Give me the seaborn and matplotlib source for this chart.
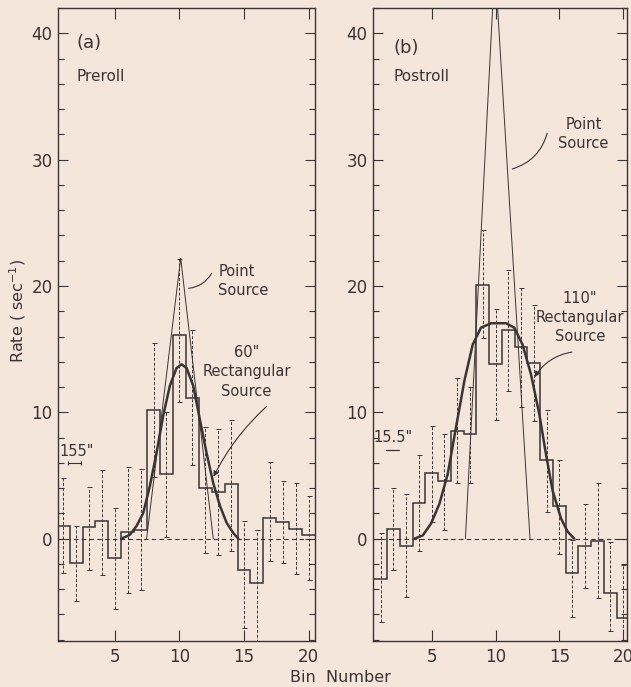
import numpy as np
import pandas as pd
import matplotlib
matplotlib.use("Agg")
import matplotlib.pyplot as plt
import seaborn as sns
from matplotlib.ticker import MultipleLocator, FixedLocator

# ---------------- data ----------------
bins = list(range(1, 21))

pre_rate = [1.0, -1.9, 0.9, 1.4, -1.5, 0.5, 0.7, 10.2, 5.1, 16.1,
            11.1, 4.0, 3.7, 4.3, -2.5, -3.5, 1.6, 1.3, 0.8, 0.3]
pre_top = [4.8, 1.0, 4.1, 5.4, 2.4, 5.7, 5.5, 15.5, 10.0, 22.1,
           16.5, 8.8, 8.7, 9.4, 1.4, 0.7, 6.1, 4.6, 4.4, 3.4]
pre_bottom = [-2.7, -4.9, -2.5, -2.9, -5.6, -4.3, -4.1, 4.9, 0.1, 10.8,
              5.8, -1.1, -1.3, -1.0, -7.1, -8.6, -1.8, -1.9, -2.8, -3.3]

post_rate = [-3.2, 0.8, -0.6, 2.8, 5.2, 4.6, 8.5, 8.3, 20.1, 13.8,
             16.5, 15.2, 13.9, 6.2, 2.6, -2.7, -0.6, -0.2, -4.3, -6.3]
post_top = [0.45, 4.0, 3.5, 6.6, 8.9, 8.3, 12.7, 12.0, 24.4, 18.2,
            21.3, 19.8, 18.5, 10.2, 6.2, -0.1, 2.75, 4.4, -0.3, -2.1]
post_bottom = [-6.6, -2.5, -4.6, -1.0, 1.3, 0.7, 4.4, 4.4, 15.9, 9.4,
               11.7, 10.4, 9.3, 2.1, -1.2, -6.2, -3.9, -4.7, -7.3, -10.5]

# point-source responses (triangles)
pre_point_x = [7.46, 10.1, 12.62]
pre_point_y = [0.0, 22.2, 0.0]
post_point_x = [7.64, 9.95, 12.70]
post_point_y = [0.0, 45.5, 0.0]

# 60" rectangular source model (preroll)
pre_rect_x = [5.5, 6.16, 6.68, 7.19, 7.71, 8.23, 8.74, 9.26, 9.78, 10.17,
              10.56, 11.07, 11.59, 12.1, 12.62, 13.14, 13.66, 14.17, 14.56]
pre_rect_y = [0.0, 0.3, 1.0, 2.0, 4.15, 6.8, 9.7, 12.1, 13.5, 13.8,
              13.5, 12.1, 9.4, 6.8, 4.4, 2.6, 1.25, 0.45, 0.0]

# 110" rectangular source model (postroll)
post_rect_x = [3.65, 4.30, 4.95, 5.6, 6.25, 6.9, 7.56, 8.21, 8.86, 9.65,
               10.82, 11.47, 12.12, 12.78, 13.43, 13.95, 14.47, 15.13, 15.64, 16.17]
post_rect_y = [0.0, 0.26, 1.2, 2.75, 5.1, 8.8, 12.5, 15.35, 16.7, 17.05,
               17.05, 16.7, 15.35, 13.0, 9.85, 6.7, 3.8, 1.6, 0.57, 0.0]

xticks = [5, 10, 15, 20]
yticks = [0, 10, 20, 30, 40]

# ---------------- style ----------------
BG = "#f5e6dc"
INK = "#3a3434"
sns.set_theme(style="ticks", rc={"axes.facecolor": BG, "figure.facecolor": BG})
plt.rcParams["font.family"] = ["DejaVu Sans"]
plt.rcParams["text.color"] = INK
plt.rcParams["axes.edgecolor"] = INK
plt.rcParams["xtick.color"] = INK
plt.rcParams["ytick.color"] = INK

W, H = 631, 687
fig = plt.figure(figsize=(W / 100, H / 100), dpi=100)
axA = fig.add_axes([58 / W, (H - 641) / H, (315 - 58) / W, (641 - 8) / H])
axB = fig.add_axes([373 / W, (H - 641) / H, (627 - 373) / W, (641 - 8) / H])


def draw_panel(ax, rate, top, bottom, px, py, rx, ry, xlim):
    b = np.array(bins, dtype=float)
    r = np.array(rate)
    edges = np.append(b - 0.5, b[-1] + 0.5)
    # zero reference line
    ax.axhline(0, color=INK, lw=0.8, dashes=(4, 3), zorder=1)
    # error bars
    eb = ax.errorbar(b, r, yerr=[r - np.array(bottom), np.array(top) - r],
                     fmt="none", ecolor=INK, elinewidth=0.7, capsize=1.8,
                     capthick=0.7, zorder=2)
    for lc in eb[2]:
        lc.set_linestyle((0, (3, 2)))
    # histogram
    ax.stairs(r, edges, baseline=None, color=INK, lw=1.1, zorder=3)
    # point source response
    sns.lineplot(x=px, y=py, ax=ax, color=INK, lw=0.7, sort=False,
                 estimator=None, zorder=4)
    # rectangular source model
    sns.lineplot(x=rx, y=ry, ax=ax, color=INK, lw=1.8, sort=False,
                 estimator=None, zorder=5)
    ax.set_xlim(*xlim)
    ax.set_ylim(-8.1, 42)
    ax.xaxis.set_major_locator(FixedLocator(xticks))
    ax.yaxis.set_major_locator(FixedLocator(yticks))
    ax.yaxis.set_minor_locator(MultipleLocator(2))
    ax.tick_params(axis="both", which="both", direction="in",
                   top=True, right=True, width=0.8, labelsize=12, colors=INK)
    ax.tick_params(axis="x", which="major", length=8, pad=5)
    ax.tick_params(axis="y", which="major", length=7, pad=4)
    ax.tick_params(axis="y", which="minor", length=4)
    ax.tick_params(axis="x", which="minor", length=0)
    for s in ax.spines.values():
        s.set_linewidth(1.0)
        s.set_color(INK)
    ax.set_xlabel("")
    ax.set_ylabel("")


draw_panel(axA, pre_rate, pre_top, pre_bottom, pre_point_x, pre_point_y,
           pre_rect_x, pre_rect_y, (0.6, 20.5))
draw_panel(axB, post_rate, post_top, post_bottom, post_point_x, post_point_y,
           post_rect_x, post_rect_y, (0.4, 20.3))

lw_lead = 0.8
# ---- panel (a) annotations ----
axA.text(2.0, 39.2, "(a)", fontsize=13, ha="left", va="center")
axA.text(2.0, 36.6, "Preroll", fontsize=11, ha="left", va="center")
axA.text(13.0, 20.4, "Point\nSource", fontsize=10.5, ha="left", va="center",
         linespacing=1.35)
axA.annotate("", xy=(10.5, 19.8), xytext=(12.6, 21.2),
             arrowprops=dict(arrowstyle="-", color=INK, lw=lw_lead,
                             connectionstyle="arc3,rad=-0.3"))
axA.text(15.2, 13.2, '60"\nRectangular\nSource', fontsize=10.5, ha="center",
         va="center", linespacing=1.35)
axA.annotate("", xy=(12.55, 4.7), xytext=(16.9, 10.6),
             arrowprops=dict(arrowstyle="-|>", color=INK, lw=lw_lead,
                             mutation_scale=8,
                             connectionstyle="arc3,rad=0.1"))
axA.text(2.05, 6.9, '155"', fontsize=10.5, ha="center", va="center")
axA.errorbar([1.9], [6.0], xerr=[[0.5], [0.5]], fmt="none", ecolor=INK,
             elinewidth=0.8, capsize=1.5, capthick=0.8)

# ---- panel (b) annotations ----
axB.text(2.0, 38.8, "(b)", fontsize=13, ha="left", va="center")
axB.text(2.0, 36.6, "Postroll", fontsize=11, ha="left", va="center")
axB.text(16.9, 32.0, "Point\nSource", fontsize=10.5, ha="center",
         va="center", linespacing=1.35)
axB.annotate("", xy=(11.1, 29.2), xytext=(14.1, 32.3),
             arrowprops=dict(arrowstyle="-", color=INK, lw=lw_lead,
                             connectionstyle="arc3,rad=-0.3"))
axB.text(16.6, 17.5, '110"\nRectangular\nSource', fontsize=10.5,
         ha="center", va="center", linespacing=1.35)
axB.annotate("", xy=(12.95, 12.6), xytext=(16.2, 14.8),
             arrowprops=dict(arrowstyle="-|>", color=INK, lw=lw_lead,
                             mutation_scale=8,
                             connectionstyle="arc3,rad=0.25"))
axB.text(2.0, 8.0, '15.5"', fontsize=10.5, ha="center", va="center")
axB.plot([1.45, 2.45], [7.0, 7.0], color=INK, lw=0.9)

# ---- shared labels ----
fig.text(18 / W, 1 - 311 / H, "Rate ( sec$^{-1}$)", rotation=90,
         fontsize=11.5, ha="center", va="center")
fig.text(340 / W, 1 - 677 / H, "Bin  Number", fontsize=11.5,
         ha="center", va="center")

fig.savefig("out.png", dpi=100, facecolor=BG)
